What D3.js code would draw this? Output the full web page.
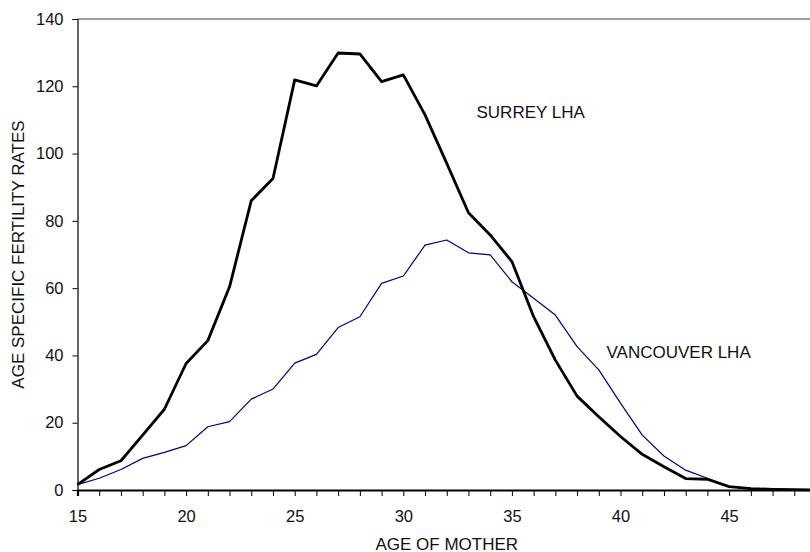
<!DOCTYPE html>
<html>
<head>
<meta charset="utf-8">
<script src="https://cdn.jsdelivr.net/npm/d3@7"></script>
<style>
    body { margin: 0; background: #fff; }
    svg { display: block; font-family: "Liberation Sans", Arial, sans-serif; }
</style>
</head>
<body>
<div id="chart"></div>
<script>
// Ages of mother (x categories)
const ages = [15, 16, 17, 18, 19, 20, 21, 22, 23, 24, 25, 26, 27, 28, 29, 30, 31, 32,
    33, 34, 35, 36, 37, 38, 39, 40, 41, 42, 43, 44, 45, 46, 47, 48, 49];

// Age specific fertility rates
const surrey = [1.6, 6.1, 8.7, 16.3, 24.0, 37.6, 44.4, 60.4, 86.0, 92.6, 121.9, 120.1, 129.9,
    129.6, 121.4, 123.4, 111.5, 97.1, 82.4, 75.8, 67.9, 51.5, 38.6, 27.9, 21.8, 15.9, 10.6,
    6.9, 3.4, 3.2, 1.0, 0.4, 0.2, 0.1, 0.0];
const vancouver = [1.6, 3.5, 6.1, 9.4, 11.2, 13.2, 18.8, 20.3, 27.0, 30.0, 37.7, 40.3, 48.3,
    51.5, 61.4, 63.6, 72.8, 74.3, 70.5, 69.9, 61.9, 57.0, 52.0, 42.6, 35.7, 25.8, 16.3,
    10.1, 5.9, 3.5, 1.0, 0.5, 0.3, 0.1, 0.0];

const xTickLabels = [15, 20, 25, 30, 35, 40, 45];
const yTickLabels = [0, 20, 40, 60, 80, 100, 120, 140];

const width = 810, height = 552;
// plot area runs past the right edge of the window (as in the reference)
const plotLeft = 77.5, plotRight = 816, plotTop = 19, plotBottom = 490;

const svg = d3.select("#chart")
    .append("svg")
    .attr("width", width)
    .attr("height", height);

const x = d3.scaleLinear().domain([15, 49]).range([plotLeft, plotRight]);
const y = d3.scaleLinear().domain([0, 140]).range([plotBottom, plotTop]);

// top border of plot area
svg.append("line")
    .attr("x1", plotLeft).attr("x2", plotRight)
    .attr("y1", plotTop).attr("y2", plotTop)
    .attr("stroke", "#808080")
    .attr("stroke-width", 1.5);

// Y axis
const yAxis = svg.append("g")
    .attr("transform", `translate(${plotLeft},0)`)
    .call(d3.axisLeft(y).tickValues(yTickLabels).tickSize(5).tickPadding(9));
yAxis.select(".domain").attr("stroke", "#000").attr("stroke-width", 1.2);
yAxis.selectAll(".tick line").attr("stroke", "#000");
yAxis.selectAll("text")
    .attr("font-size", "16.5px")
    .attr("fill", "#111")
    .attr("font-family", "Liberation Sans, Arial, sans-serif");

// X axis
const xAxis = svg.append("g")
    .attr("transform", `translate(0,${plotBottom})`)
    .call(d3.axisBottom(x).tickValues(ages).tickSize(6).tickPadding(14)
        .tickFormat(d => xTickLabels.includes(d) ? d : ""));
xAxis.select(".domain").attr("stroke", "#000").attr("stroke-width", 2.2);
xAxis.selectAll(".tick line").attr("stroke", "#000");
xAxis.selectAll("text")
    .attr("font-size", "16.5px")
    .attr("fill", "#111")
    .attr("font-family", "Liberation Sans, Arial, sans-serif");

const line = d3.line()
    .x((d, i) => x(ages[i]))
    .y(d => y(d));

// Vancouver LHA (thin blue)
svg.append("path")
    .datum(vancouver)
    .attr("fill", "none")
    .attr("stroke", "#000080")
    .attr("stroke-width", 1.2)
    .attr("stroke-linejoin", "round")
    .attr("d", line);

// Surrey LHA (thick black)
svg.append("path")
    .datum(surrey)
    .attr("fill", "none")
    .attr("stroke", "#000")
    .attr("stroke-width", 2.8)
    .attr("stroke-linejoin", "round")
    .attr("d", line);

// series labels
svg.append("text")
    .attr("x", 476.5).attr("y", 117.5)
    .attr("font-size", "17px")
    .attr("fill", "#111")
    .text("SURREY LHA");

svg.append("text")
    .attr("x", 606.5).attr("y", 357.5)
    .attr("font-size", "17px")
    .attr("fill", "#111")
    .text("VANCOUVER LHA");

// axis titles
svg.append("text")
    .attr("x", (plotLeft + plotRight) / 2).attr("y", 549.5)
    .attr("text-anchor", "middle")
    .attr("font-size", "17px")
    .attr("fill", "#111")
    .text("AGE OF MOTHER");

svg.append("text")
    .attr("transform", `translate(24,${(plotTop + plotBottom) / 2}) rotate(-90)`)
    .attr("text-anchor", "middle")
    .attr("font-size", "17px")
    .attr("fill", "#111")
    .text("AGE SPECIFIC FERTILITY RATES");
</script>
</body>
</html>
